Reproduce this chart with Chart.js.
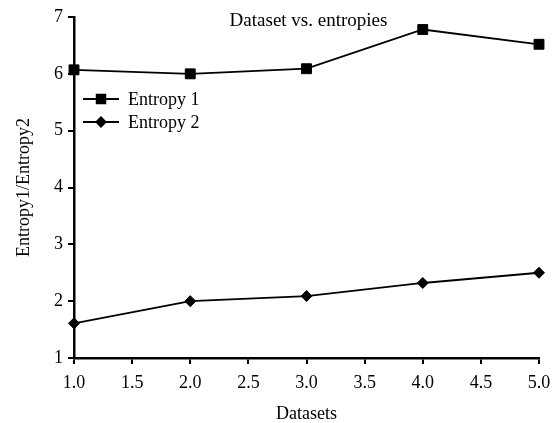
<!DOCTYPE html>
<html>
<head>
<meta charset="utf-8">
<script src="https://cdn.jsdelivr.net/npm/chart.js@4.4.1/dist/chart.umd.min.js"></script>
<style>
    html, body { margin: 0; padding: 0; background: #fff; }
    #wrap { width: 559px; height: 423px; }
</style>
</head>
<body>
<div id="wrap"><canvas id="entropyChart"></canvas></div>
<script>
// Values
const datasetsX = [1, 2, 3, 4, 5];
const entropy1 = [6.07, 6.0, 6.09, 6.78, 6.52];
const entropy2 = [1.61, 2.0, 2.09, 2.32, 2.5];
const seriesNames = ['Entropy 1', 'Entropy 2'];
const chartTitle = 'Dataset vs. entropies';

const serif = "'Liberation Serif', 'Times New Roman', serif";

// Title drawn inside the plot area
const innerTitle = {
    id: 'innerTitle',
    afterDraw(chart) {
        const { ctx, chartArea } = chart;
        ctx.save();
        ctx.font = '19px ' + serif;
        ctx.fillStyle = '#000';
        ctx.textAlign = 'center';
        ctx.textBaseline = 'alphabetic';
        ctx.fillText(chartTitle, (chartArea.left + chartArea.right) / 2 + 2, chartArea.top + 9);
        ctx.restore();
    }
};

// Legend with line + marker, placed inside the plot
const innerLegend = {
    id: 'innerLegend',
    afterDraw(chart) {
        const { ctx, chartArea } = chart;
        ctx.save();
        chart.data.datasets.forEach((ds, i) => {
            const y = chartArea.top + 82 + i * 23;
            const x0 = chartArea.left + 9;
            const x1 = x0 + 36;
            ctx.strokeStyle = '#000';
            ctx.lineWidth = 2;
            ctx.beginPath();
            ctx.moveTo(x0, y);
            ctx.lineTo(x1, y);
            ctx.stroke();
            ctx.fillStyle = '#000';
            Chart.helpers.drawPoint(ctx, {
                pointStyle: ds.pointStyle,
                radius: ds.pointStyle === 'rect' ? 6 : 4.5,
                rotation: 0,
                borderWidth: 1
            }, (x0 + x1) / 2, y);
            ctx.font = '18px ' + serif;
            ctx.textAlign = 'left';
            ctx.textBaseline = 'middle';
            ctx.fillText(ds.label, x1 + 9, y + 1);
        });
        ctx.restore();
    }
};

const ctx = document.querySelector('#entropyChart').getContext('2d');

const entropyChart = new Chart(ctx, {
    type: 'line',
    data: {
        datasets: [{
            label: seriesNames[0],
            data: datasetsX.map((x, i) => ({ x: x, y: entropy1[i] })),
            borderColor: '#000',
            backgroundColor: '#000',
            borderWidth: 1.8,
            pointStyle: 'rect',
            pointRadius: 7,
            pointBorderWidth: 1,
            tension: 0,
            clip: false
        }, {
            label: seriesNames[1],
            data: datasetsX.map((x, i) => ({ x: x, y: entropy2[i] })),
            borderColor: '#000',
            backgroundColor: '#000',
            borderWidth: 1.8,
            pointStyle: 'rectRot',
            pointRadius: 5.5,
            pointBorderWidth: 1,
            tension: 0,
            clip: false
        }]
    },
    options: {
        responsive: true,
        maintainAspectRatio: false,
        animation: false,
        events: [],
        layout: {
            padding: { top: 17, right: 20, left: 0, bottom: 0 }
        },
        plugins: {
            legend: { display: false },
            title: { display: false },
            tooltip: { enabled: false }
        },
        scales: {
            x: {
                type: 'linear',
                min: 1,
                max: 5,
                afterFit(scale) { scale.height = 65; },
                border: { display: true, color: '#000', width: 2.5 },
                grid: { drawOnChartArea: false, drawTicks: true, tickLength: 6, color: '#000', lineWidth: 2 },
                ticks: {
                    stepSize: 0.5,
                    color: '#000',
                    padding: 8,
                    maxRotation: 0,
                    font: { family: serif, size: 18 },
                    callback: v => Number(v).toFixed(1)
                },
                title: {
                    display: true,
                    text: 'Datasets',
                    color: '#000',
                    font: { family: serif, size: 18, lineHeight: 1 },
                    padding: { top: 0, bottom: 0 }
                }
            },
            y: {
                min: 1,
                max: 7,
                afterFit(scale) { scale.width = 74; },
                border: { display: true, color: '#000', width: 2.5 },
                grid: { drawOnChartArea: false, drawTicks: true, tickLength: 6, color: '#000', lineWidth: 2 },
                ticks: {
                    stepSize: 1,
                    color: '#000',
                    padding: 5,
                    font: { family: serif, size: 18 }
                },
                title: {
                    display: true,
                    text: 'Entropy1/Entropy2',
                    color: '#000',
                    font: { family: serif, size: 18, lineHeight: 1 },
                    padding: { top: 15, bottom: 0 }
                }
            }
        }
    },
    plugins: [innerTitle, innerLegend]
});
</script>
</body>
</html>
